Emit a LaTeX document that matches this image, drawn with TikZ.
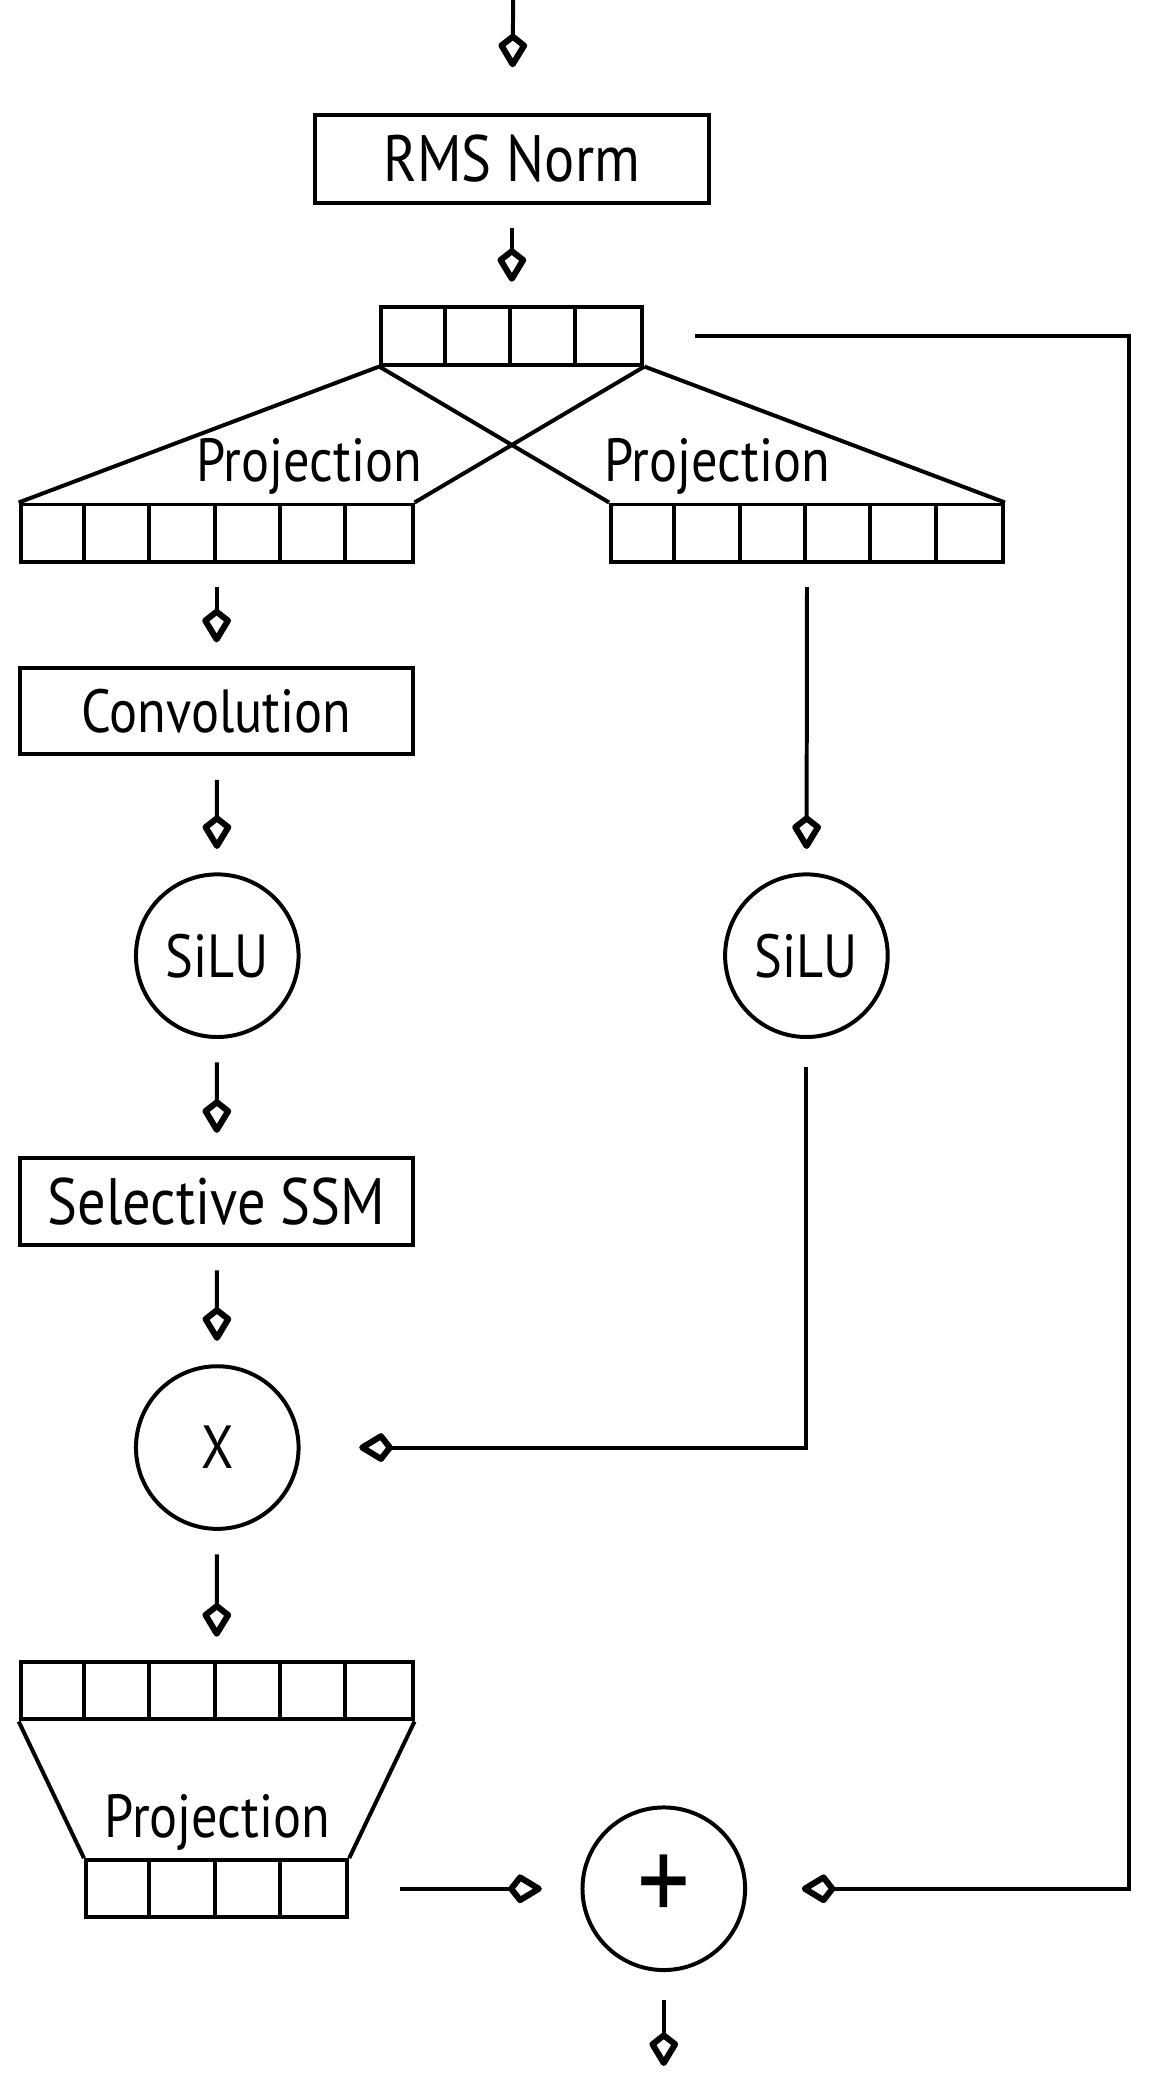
\documentclass[tikz,border=0pt]{standalone}
\usepackage{fontspec}
\setmainfont[FakeStretch=0.86]{PT Sans}
\usetikzlibrary{arrows.meta}

\begin{document}
\begin{tikzpicture}[every node/.style={font=\fontsize{13}{15}\selectfont, inner sep=0pt}, box/.style={draw, rectangle, minimum width=2.95cm, minimum height=0.65cm}, vec/.style={draw, rectangle, minimum height=0.43cm, minimum width=#1}, op/.style={draw, circle, minimum size=1.22cm}, line width=0.85pt, >={Kite[open,round,length=2.8mm,width=2.3mm,inset=0.9mm,line width=1.3pt]}, flow/.style={->, shorten <=5pt, shorten >=5pt}]
\useasboundingbox[fill=white] (0,0) rectangle (8.70,-15.68);
\coordinate (in) at (3.85,0);
\node[box, minimum width=2.96cm, minimum height=0.66cm, font=\fontsize{14}{16}\selectfont] (rms) at (3.84,-1.19) {RMS Norm};
\node[vec=1.96cm] (vtop) at (3.84,-2.52) {};
\node[vec=2.94cm] (vleft) at (1.625,-4.00) {};
\node[vec=2.94cm] (vright) at (6.055,-4.00) {};
\node[box] (conv) at (1.625,-5.335) {Convolution};
\node[op] (siluL) at (1.63,-7.17) {SiLU};
\node[op] (siluR) at (6.05,-7.17) {SiLU};
\node[box, font=\fontsize{14}{16}\selectfont] (ssm) at (1.625,-9.015) {Selective SSM};
\node[op] (mul) at (1.63,-10.86) {X};
\node[vec=2.94cm] (vbot) at (1.625,-12.685) {};
\node[vec=1.96cm] (vout) at (1.625,-14.17) {};
\node[op, font=\fontsize{26}{28}\selectfont] (plus) at (4.98,-14.17) {+};
\coordinate (out) at (4.98,-15.50);
\coordinate (skip) at (8.47,-14.17);
\node (projL) at (2.32,-3.50) {Projection};
\node (projR) at (5.38,-3.50) {Projection};
\node (projB) at (1.63,-13.67) {Projection};
% cells
\foreach \v/\n in {vtop/3, vleft/5, vright/5, vbot/5, vout/3}
  \foreach \i in {1,...,\n}
    \draw ([xshift=\i*0.49cm]\v.south west) -- ([xshift=\i*0.49cm]\v.north west);
% projections
\draw (vtop.south west) -- (vleft.north west);
\draw (vtop.south east) -- (vleft.north east);
\draw (vtop.south west) -- (vright.north west);
\draw (vtop.south east) -- (vright.north east);
\draw (vbot.south west) -- (vout.north west);
\draw (vbot.south east) -- (vout.north east);
% arrows
\draw[->, shorten >=0.34cm] (in) -- (rms);
\draw[flow] (rms) -- (vtop);
\draw[flow] (vleft) -- (conv);
\draw[flow] (conv) -- (siluL);
\draw[flow] (siluL) -- (ssm);
\draw[flow] (ssm) -- (mul);
\draw[flow] (mul) -- (vbot);
\draw[flow] (vright) -- (siluR);
\draw[->, shorten <=6pt, shorten >=0.44cm] (siluR) |- (mul);
\draw[->, shorten <=0.38cm, shorten >=0.29cm] (vout) -- (plus);
\draw[->, shorten <=0.38cm, shorten >=0.41cm] (vtop) -| (skip) -- (plus);
\draw[->, shorten <=6pt] (plus) -- (out);
\end{tikzpicture}
\end{document}
